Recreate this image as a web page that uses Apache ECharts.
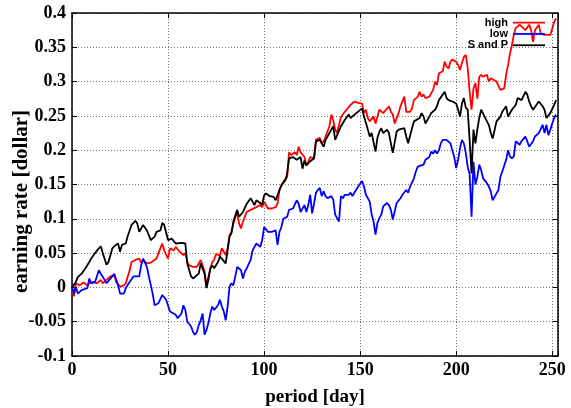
<!DOCTYPE html>
<html>
<head>
<meta charset="utf-8">
<script src="https://cdn.jsdelivr.net/npm/echarts@6/dist/echarts.min.js"></script>
<style>
  html, body { margin: 0; padding: 0; background: #fff; }
  #chart { width: 571px; height: 408px; }
</style>
</head>
<body>
<div id="chart"></div>
<script>
// [day, earning rate]
var highData = [[0,0],[1,-0.013],[2,0.006],[4,0.003],[6,0.007],[8,0.003],[9,0.006],[11,0.008],[13,0.006],[15,0.011],[16,0.006],[18,0.011],[20,0.016],[22,0.018],[23,0.008],[25,0.001],[27,0.003],[28,0.006],[30,0.025],[31,0.037],[33,0.04],[35,0.042],[36,0.036],[37,0.04],[39,0.035],[41,0.036],[42,0.035],[44,0.042],[45,0.05],[47,0.064],[48,0.054],[50,0.042],[51,0.057],[53,0.054],[54,0.059],[56,0.052],[58,0.047],[59,0.05],[60,0.037],[61,0.032],[63,0.03],[65,0.03],[67,0.04],[68,0.032],[69,0.023],[70,0.003],[71,0.016],[73,0.037],[74,0.04],[75,0.049],[77,0.046],[78,0.057],[79,0.059],[80,0.047],[81,0.057],[82,0.076],[83,0.081],[84,0.093],[86,0.11],[87,0.093],[88,0.086],[89,0.096],[91,0.11],[93,0.113],[94,0.115],[96,0.117],[98,0.12],[99,0.117],[100,0.125],[102,0.115],[104,0.115],[106,0.117],[107,0.122],[108,0.142],[110,0.154],[112,0.161],[113,0.197],[114,0.193],[116,0.197],[117,0.193],[118,0.205],[119,0.197],[121,0.19],[122,0.178],[123,0.183],[124,0.19],[126,0.188],[127,0.215],[129,0.218],[130,0.21],[131,0.213],[132,0.22],[134,0.235],[135,0.252],[136,0.244],[137,0.23],[138,0.225],[139,0.237],[140,0.248],[141,0.247],[142,0.256],[143,0.259],[145,0.266],[146,0.268],[147,0.271],[148,0.269],[149,0.269],[151,0.268],[152,0.254],[153,0.259],[154,0.247],[155,0.242],[157,0.249],[158,0.239],[159,0.237],[160,0.259],[162,0.254],[163,0.256],[165,0.264],[166,0.256],[167,0.252],[168,0.239],[170,0.254],[171,0.264],[172,0.266],[173,0.278],[174,0.256],[176,0.256],[177,0.261],[178,0.273],[180,0.278],[181,0.285],[182,0.278],[183,0.281],[184,0.276],[186,0.278],[187,0.283],[188,0.288],[189,0.3],[190,0.295],[191,0.312],[193,0.315],[194,0.329],[195,0.322],[196,0.319],[197,0.329],[198,0.332],[200,0.329],[201,0.324],[202,0.317],[203,0.327],[204,0.336],[205,0.339],[206,0.32],[207,0.285],[208,0.259],[209,0.29],[210,0.298],[211,0.275],[212,0.307],[213,0.31],[214,0.307],[216,0.31],[217,0.3],[218,0.305],[219,0.305],[221,0.3],[222,0.3],[223,0.288],[225,0.29],[226,0.31],[227,0.324],[228,0.341],[229,0.353],[230,0.368],[231,0.378],[232,0.38],[233,0.383],[235,0.378],[236,0.375],[238,0.383],[239,0.375],[240,0.358],[241,0.375],[243,0.383],[244,0.37],[245,0.368],[246,0.368],[247,0.368],[249,0.368],[250,0.37],[251,0.387],[252,0.392]];

var lowData = [[0,0.001],[1,-0.009],[2,0.001],[3,-0.009],[5,-0.004],[6,-0.006],[8,-0.001],[9,0.013],[10,0.006],[12,0.008],[14,0.025],[15,0.02],[17,0.011],[18,0.006],[19,0.008],[21,0.016],[22,0.02],[24,0.003],[25,-0.009],[27,-0.009],[28,-0.001],[30,0.008],[32,0.016],[33,0.018],[35,0.016],[36,0.032],[37,0.042],[39,0.03],[40,0.016],[42,-0.009],[43,-0.026],[45,-0.023],[47,-0.011],[48,-0.009],[49,-0.018],[51,-0.035],[52,-0.035],[54,-0.04],[55,-0.045],[57,-0.038],[58,-0.026],[59,-0.033],[60,-0.05],[62,-0.057],[63,-0.065],[64,-0.069],[65,-0.065],[66,-0.055],[67,-0.048],[68,-0.038],[69,-0.069],[70,-0.062],[71,-0.052],[72,-0.038],[73,-0.028],[74,-0.033],[76,-0.026],[77,-0.018],[78,-0.028],[79,-0.035],[80,-0.048],[81,-0.028],[82,0.001],[83,0.006],[84,0.003],[85,0.016],[86,0.03],[88,0.025],[89,0.013],[90,0.023],[91,0.028],[93,0.04],[94,0.054],[95,0.052],[96,0.064],[98,0.059],[99,0.069],[100,0.088],[102,0.081],[103,0.079],[104,0.081],[106,0.083],[107,0.062],[108,0.081],[109,0.088],[110,0.1],[112,0.103],[113,0.113],[114,0.115],[115,0.115],[117,0.127],[118,0.122],[119,0.11],[121,0.12],[122,0.11],[123,0.12],[124,0.135],[125,0.108],[126,0.122],[127,0.138],[128,0.142],[129,0.145],[130,0.133],[131,0.14],[132,0.133],[133,0.13],[135,0.133],[136,0.128],[137,0.106],[139,0.096],[140,0.133],[141,0.13],[142,0.135],[144,0.135],[145,0.138],[146,0.133],[147,0.138],[148,0.14],[149,0.147],[151,0.155],[152,0.147],[153,0.135],[154,0.135],[155,0.125],[156,0.106],[157,0.096],[158,0.077],[159,0.094],[160,0.101],[161,0.106],[162,0.118],[164,0.123],[165,0.12],[166,0.113],[167,0.099],[169,0.123],[170,0.125],[171,0.13],[172,0.135],[174,0.142],[175,0.138],[176,0.147],[178,0.159],[179,0.169],[180,0.176],[181,0.174],[183,0.179],[184,0.186],[185,0.188],[186,0.19],[187,0.198],[188,0.195],[189,0.2],[190,0.195],[191,0.2],[192,0.21],[193,0.215],[194,0.217],[195,0.215],[196,0.215],[197,0.21],[198,0.2],[199,0.19],[200,0.174],[201,0.186],[202,0.203],[203,0.215],[204,0.21],[205,0.196],[206,0.176],[207,0.165],[208,0.103],[209,0.183],[210,0.15],[211,0.161],[212,0.179],[213,0.171],[214,0.159],[216,0.152],[217,0.147],[218,0.14],[219,0.127],[221,0.137],[222,0.142],[223,0.161],[224,0.169],[226,0.186],[227,0.2],[228,0.191],[229,0.188],[230,0.191],[231,0.213],[232,0.213],[233,0.208],[234,0.213],[236,0.22],[237,0.213],[238,0.205],[239,0.203],[240,0.213],[241,0.22],[243,0.225],[244,0.227],[245,0.237],[246,0.225],[247,0.237],[248,0.222],[249,0.23],[250,0.239],[251,0.247],[252,0.252]];

var spData = [[0,0],[2,0.008],[3,0.015],[5,0.02],[7,0.028],[9,0.037],[10,0.042],[12,0.05],[14,0.057],[15,0.06],[16,0.05],[18,0.033],[19,0.037],[21,0.057],[22,0.06],[24,0.064],[25,0.052],[26,0.062],[28,0.064],[29,0.075],[31,0.091],[33,0.097],[34,0.093],[35,0.081],[36,0.083],[37,0.091],[39,0.083],[41,0.069],[42,0.069],[43,0.074],[44,0.081],[46,0.083],[47,0.094],[48,0.091],[50,0.069],[52,0.071],[54,0.064],[55,0.062],[57,0.065],[59,0.064],[60,0.035],[62,0.016],[63,0.013],[64,0.013],[66,0.02],[67,0.035],[69,0.02],[70,-0.001],[71,0.011],[72,0.028],[73,0.032],[74,0.028],[76,0.037],[77,0.045],[78,0.042],[79,0.04],[80,0.035],[81,0.054],[82,0.074],[83,0.079],[84,0.096],[86,0.113],[87,0.103],[88,0.105],[89,0.11],[91,0.122],[92,0.12],[93,0.13],[95,0.12],[96,0.127],[97,0.125],[99,0.121],[100,0.134],[101,0.137],[103,0.133],[104,0.134],[105,0.132],[106,0.127],[108,0.142],[109,0.149],[111,0.156],[112,0.166],[113,0.188],[115,0.19],[116,0.188],[117,0.186],[119,0.19],[120,0.173],[121,0.185],[122,0.178],[124,0.184],[125,0.183],[126,0.188],[127,0.213],[128,0.215],[129,0.215],[131,0.205],[132,0.215],[133,0.22],[135,0.23],[136,0.235],[137,0.215],[138,0.213],[140,0.235],[141,0.237],[142,0.244],[144,0.252],[145,0.247],[146,0.249],[148,0.254],[149,0.252],[151,0.261],[152,0.249],[153,0.24],[154,0.23],[155,0.22],[156,0.225],[158,0.198],[159,0.218],[160,0.227],[161,0.232],[162,0.225],[164,0.23],[165,0.225],[166,0.21],[167,0.196],[169,0.227],[170,0.23],[171,0.231],[173,0.232],[174,0.22],[175,0.21],[177,0.232],[178,0.242],[179,0.242],[181,0.247],[182,0.254],[183,0.249],[184,0.239],[186,0.249],[187,0.254],[188,0.256],[189,0.259],[190,0.264],[191,0.273],[192,0.271],[194,0.285],[195,0.276],[196,0.273],[197,0.273],[198,0.271],[200,0.268],[201,0.259],[202,0.249],[203,0.268],[204,0.276],[205,0.262],[206,0.259],[207,0.215],[208,0.166],[209,0.23],[210,0.21],[211,0.23],[212,0.247],[213,0.259],[214,0.259],[216,0.242],[217,0.237],[218,0.225],[219,0.217],[221,0.242],[222,0.242],[223,0.249],[224,0.256],[226,0.264],[227,0.249],[228,0.254],[229,0.259],[230,0.261],[231,0.266],[232,0.276],[233,0.276],[234,0.273],[236,0.285],[237,0.281],[238,0.271],[239,0.264],[240,0.259],[241,0.261],[243,0.271],[244,0.271],[245,0.264],[246,0.259],[247,0.247],[248,0.247],[249,0.254],[250,0.252],[251,0.266],[252,0.273]];

var seriesNames = ['high', 'low', 'S and P'];
var seriesColors = ['#ff0000', '#0000ff', '#000000'];

var chart = echarts.init(document.getElementById('chart'));
var serifFont = '"Liberation Serif", "Times New Roman", serif';

//dotted grid + inside ticks, gnuplot style
var tickStyle = { show: true, inside: true, length: 5, lineStyle: { color: '#000', width: 1 } };
var gridLine = { show: true, lineStyle: { color: '#777', type: [1, 2], width: 1 } };
var frameLine = { show: true, onZero: false, lineStyle: { color: '#000', width: 1.5 } };

var option = {
    animation: false,
    backgroundColor: '#fff',
    grid: { left: 72, right: 13, top: 13, bottom: 52, containLabel: false, outerBoundsMode: 'none' },
    legend: {
        data: seriesNames,
        orient: 'vertical',
        align: 'right',
        right: 26,
        top: 17,
        padding: 0,
        itemGap: 0,
        icon: 'rect',
        itemWidth: 32,
        itemHeight: 1.8,
        textStyle: { fontFamily: '"Liberation Sans", Arial, sans-serif', fontWeight: 'bold', fontSize: 11, lineHeight: 11.3, color: '#000' }
    },
    xAxis: [{
        type: 'value',
        min: 0,
        max: 253,
        interval: 50,
        name: 'period [day]',
        nameLocation: 'middle',
        nameGap: 32,
        nameMoveOverlap: false,
        nameTextStyle: { fontFamily: serifFont, fontWeight: 'bold', fontSize: 19, color: '#000' },
        axisLine: frameLine,
        axisTick: tickStyle,
        axisLabel: {
            margin: 5,
            fontFamily: serifFont, fontWeight: 'bold', fontSize: 18, color: '#000',
            formatter: function (v) { return v % 50 === 0 ? String(v) : ''; }
        },
        splitLine: gridLine
    }, {
        type: 'value',
        position: 'top',
        min: 0,
        max: 253,
        interval: 50,
        axisLine: frameLine,
        axisTick: tickStyle,
        axisLabel: { show: false },
        splitLine: { show: false }
    }],
    yAxis: [{
        type: 'value',
        min: -0.1,
        max: 0.4,
        interval: 0.05,
        name: 'earning rate [dollar]',
        nameLocation: 'middle',
        nameGap: 40,
        nameMoveOverlap: false,
        nameTextStyle: { fontFamily: serifFont, fontWeight: 'bold', fontSize: 21, color: '#000', padding: [0, 34, 0, 0] },
        axisLine: frameLine,
        axisTick: tickStyle,
        axisLabel: {
            margin: 6,
            fontFamily: serifFont, fontWeight: 'bold', fontSize: 18, color: '#000',
            formatter: function (v) { return String(parseFloat(v.toFixed(2))); }
        },
        splitLine: gridLine
    }, {
        type: 'value',
        position: 'right',
        min: -0.1,
        max: 0.4,
        interval: 0.05,
        axisLine: frameLine,
        axisTick: tickStyle,
        axisLabel: { show: false },
        splitLine: { show: false }
    }],
    series: [
        { name: seriesNames[0], type: 'line', data: highData, symbol: 'none', lineStyle: { color: seriesColors[0], width: 1.8 }, itemStyle: { color: seriesColors[0] } },
        { name: seriesNames[1], type: 'line', data: lowData, symbol: 'none', lineStyle: { color: seriesColors[1], width: 1.8 }, itemStyle: { color: seriesColors[1] } },
        { name: seriesNames[2], type: 'line', data: spData, symbol: 'none', lineStyle: { color: seriesColors[2], width: 1.8 }, itemStyle: { color: seriesColors[2] } }
    ]
};

if (option && typeof option === 'object') {
    chart.setOption(option);
}
</script>
</body>
</html>
